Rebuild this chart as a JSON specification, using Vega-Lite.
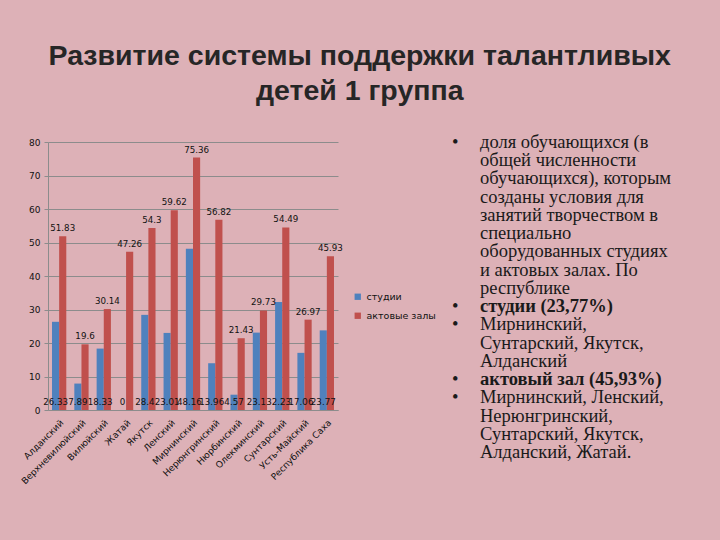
{
  "$schema": "https://vega.github.io/schema/vega-lite/v6.json",
  "background": "#ddb1b7",
  "padding": {"left": 19, "top": 41, "right": 34, "bottom": 70},
  "title": {
    "text": ["Развитие системы поддержки талантливых", "детей 1 группа"],
    "font": "Liberation Sans",
    "fontSize": 28.5,
    "fontWeight": "bold",
    "color": "#262626",
    "lineHeight": 35,
    "anchor": "start",
    "align": "center",
    "dx": 340,
    "offset": 28
  },
  "config": {
    "view": {"stroke": null},
    "concat": {"spacing": 109}
  },
  "hconcat": [
    {
      "width": 290,
      "height": 268,
      "data": {
        "values": [
          {"district": "Алданский", "series": "студии", "value": 26.33},
          {"district": "Верхневилюйский", "series": "студии", "value": 7.89},
          {"district": "Вилюйский", "series": "студии", "value": 18.33},
          {"district": "Жатай", "series": "студии", "value": 0},
          {"district": "Якутск", "series": "студии", "value": 28.4},
          {"district": "Ленский", "series": "студии", "value": 23.01},
          {"district": "Мирнинский", "series": "студии", "value": 48.16},
          {"district": "Нерюнгринский", "series": "студии", "value": 13.96},
          {"district": "Нюрбинский", "series": "студии", "value": 4.57},
          {"district": "Олекминский", "series": "студии", "value": 23.1},
          {"district": "Сунтарский", "series": "студии", "value": 32.23},
          {"district": "Усть-Майский", "series": "студии", "value": 17.06},
          {"district": "Республика Саха", "series": "студии", "value": 23.77},
          {"district": "Алданский", "series": "актовые залы", "value": 51.83},
          {"district": "Верхневилюйский", "series": "актовые залы", "value": 19.6},
          {"district": "Вилюйский", "series": "актовые залы", "value": 30.14},
          {"district": "Жатай", "series": "актовые залы", "value": 47.26},
          {"district": "Якутск", "series": "актовые залы", "value": 54.3},
          {"district": "Ленский", "series": "актовые залы", "value": 59.62},
          {"district": "Мирнинский", "series": "актовые залы", "value": 75.36},
          {"district": "Нерюнгринский", "series": "актовые залы", "value": 56.82},
          {"district": "Нюрбинский", "series": "актовые залы", "value": 21.43},
          {"district": "Олекминский", "series": "актовые залы", "value": 29.73},
          {"district": "Сунтарский", "series": "актовые залы", "value": 54.49},
          {"district": "Усть-Майский", "series": "актовые залы", "value": 26.97},
          {"district": "Республика Саха", "series": "актовые залы", "value": 45.93}
        ]
      },
      "encoding": {
        "x": {
          "field": "district",
          "type": "nominal",
          "sort": null,
          "scale": {"paddingInner": 0.36, "paddingOuter": 0.18},
          "axis": {
            "title": null,
            "labelAngle": -45,
            "labelFont": "DejaVu Sans",
            "labelFontSize": 9,
            "labelColor": "#111111",
            "labelPadding": 8,
            "ticks": false,
            "domainColor": "#8c8c8c",
            "labelOverlap": false
          }
        },
        "xOffset": {"field": "series", "type": "nominal", "sort": ["студии", "актовые залы"]},
        "y": {
          "field": "value",
          "type": "quantitative",
          "scale": {"domain": [0, 80], "nice": false},
          "axis": {
            "title": null,
            "values": [0, 10, 20, 30, 40, 50, 60, 70, 80],
            "labelOverlap": false,
            "labelFont": "DejaVu Sans",
            "labelFontSize": 9,
            "labelColor": "#111111",
            "labelPadding": 4,
            "ticks": true,
            "tickSize": 4,
            "tickColor": "#8c8c8c",
            "domain": true,
            "domainColor": "#8c8c8c",
            "gridColor": "#8c8c8c",
            "gridOpacity": 1
          }
        }
      },
      "layer": [
        {
          "mark": {"type": "bar"},
          "encoding": {
            "color": {
              "field": "series",
              "type": "nominal",
              "sort": ["студии", "актовые залы"],
              "scale": {"domain": ["студии", "актовые залы"], "range": ["#4f81bd", "#c0504d"]},
              "legend": {
                "title": null,
                "orient": "none",
                "legendX": 305,
                "legendY": 150,
                "symbolType": "square",
                "symbolSize": 40,
                "symbolStrokeWidth": 0,
                "labelFont": "DejaVu Sans",
                "labelFontSize": 9.5,
                "labelColor": "#111111",
                "rowPadding": 8
              }
            }
          }
        },
        {
          "transform": [{"filter": "datum.series == 'актовые залы'"}],
          "mark": {"type": "text", "baseline": "bottom", "dy": -3, "font": "DejaVu Sans", "fontSize": 8.7, "color": "#111111"},
          "encoding": {
            "text": {"field": "value", "type": "nominal"}
          }
        },
        {
          "transform": [{"filter": "datum.series == 'студии'"}],
          "mark": {"type": "text", "baseline": "bottom", "dy": -3, "font": "DejaVu Sans", "fontSize": 8.7, "color": "#111111"},
          "encoding": {
            "y": {"datum": 0, "type": "quantitative"},
            "text": {"field": "value", "type": "nominal"}
          }
        }
      ]
    },
    {
      "width": 240,
      "height": 310,
      "data": {
        "values": [
          {"line": 0, "col": "marker", "text": "•", "bold": false},
          {"line": 0, "col": "text", "text": "доля обучающихся (в", "bold": false},
          {"line": 1, "col": "text", "text": "общей численности", "bold": false},
          {"line": 2, "col": "text", "text": "обучающихся), которым", "bold": false},
          {"line": 3, "col": "text", "text": "созданы условия для", "bold": false},
          {"line": 4, "col": "text", "text": "занятий творчеством в", "bold": false},
          {"line": 5, "col": "text", "text": "специально", "bold": false},
          {"line": 6, "col": "text", "text": "оборудованных студиях", "bold": false},
          {"line": 7, "col": "text", "text": "и актовых залах.  По", "bold": false},
          {"line": 8, "col": "text", "text": "республике", "bold": false},
          {"line": 9, "col": "marker", "text": "•", "bold": false},
          {"line": 9, "col": "text", "text": " студии (23,77%)", "bold": true},
          {"line": 10, "col": "marker", "text": "•", "bold": false},
          {"line": 10, "col": "text", "text": "Мирнинский,", "bold": false},
          {"line": 11, "col": "text", "text": "Сунтарский, Якутск,", "bold": false},
          {"line": 12, "col": "text", "text": "Алданский", "bold": false},
          {"line": 13, "col": "marker", "text": "•", "bold": false},
          {"line": 13, "col": "text", "text": "актовый зал (45,93%)", "bold": true},
          {"line": 14, "col": "marker", "text": "•", "bold": false},
          {"line": 14, "col": "text", "text": "Мирнинский, Ленский,", "bold": false},
          {"line": 15, "col": "text", "text": "Нерюнгринский,", "bold": false},
          {"line": 16, "col": "text", "text": "Сунтарский, Якутск,", "bold": false},
          {"line": 17, "col": "text", "text": "Алданский, Жатай.", "bold": false}
        ]
      },
      "encoding": {
        "x": {"field": "col", "type": "nominal", "scale": {"type": "point", "domain": ["marker", "text"], "range": [0, 28], "padding": 0}, "axis": null},
        "y": {"field": "line", "type": "quantitative", "scale": {"domain": [0, 17], "reverse": true, "nice": false, "zero": false}, "axis": null},
        "text": {"field": "text", "type": "nominal"}
      },
      "layer": [
        {
          "transform": [{"filter": "!datum.bold"}],
          "mark": {"type": "text", "align": "left", "baseline": "middle", "font": "Liberation Serif", "fontSize": 18.5, "color": "#1a1a1a"}
        },
        {
          "transform": [{"filter": "datum.bold"}],
          "mark": {"type": "text", "align": "left", "baseline": "middle", "font": "Liberation Serif", "fontSize": 18.5, "fontWeight": "bold", "color": "#1a1a1a"}
        }
      ]
    }
  ]
}
